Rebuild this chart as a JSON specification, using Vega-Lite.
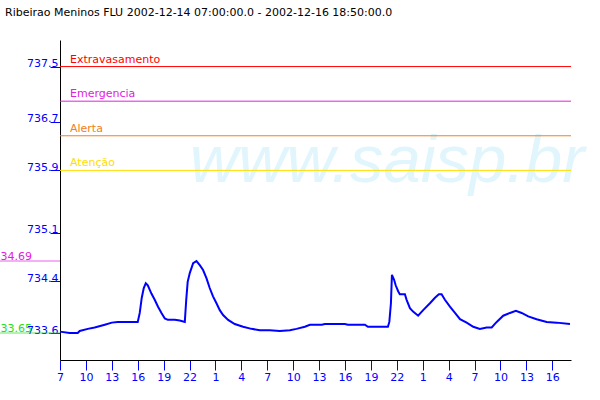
{
  "$schema": "https://vega.github.io/schema/vega-lite/v6.json",
  "width": 511,
  "height": 320,
  "autosize": {"type": "none"},
  "padding": {"left": 60, "top": 40, "right": 29, "bottom": 40},
  "background": "white",
  "title": {
    "text": "Ribeirao Meninos FLU 2002-12-14 07:00:00.0 - 2002-12-16 18:50:00.0",
    "anchor": "start",
    "frame": "group",
    "dx": -55,
    "offset": 13,
    "baseline": "alphabetic",
    "font": "DejaVu Sans",
    "fontSize": 11,
    "fontWeight": "normal",
    "color": "black"
  },
  "config": {
    "view": {"stroke": null},
    "font": "DejaVu Sans",
    "text": {"font": "DejaVu Sans", "fontSize": 11},
    "axisX": {
      "grid": false, "domainColor": "#000000", "domainWidth": 1,
      "tickColor": "#0000ff", "tickSize": 10, "tickWidth": 1,
      "labelColor": "#0000ff", "labelFont": "DejaVu Sans", "labelFontSize": 11,
      "labelPadding": 1, "labelBaseline": "top", "labelAlign": "center",
      "labelOverlap": false, "labelFlush": false, "labelBound": false
    },
    "axisY": {
      "grid": false, "domainColor": "#000000", "domainWidth": 1,
      "tickColor": "#0000ff", "tickSize": 10, "tickWidth": 1,
      "labelColor": "#0000ff", "labelFont": "DejaVu Sans", "labelFontSize": 11,
      "labelPadding": -8, "labelBaseline": "alphabetic", "labelAlign": "right",
      "labelOverlap": false, "labelFlush": false, "labelBound": false
    }
  },
  "datasets": {
    "level": [
      {"t": "2002-12-14T07:00Z", "v": 733.67},
      {"t": "2002-12-14T08:07Z", "v": 733.65},
      {"t": "2002-12-14T09:03Z", "v": 733.65},
      {"t": "2002-12-14T09:17Z", "v": 733.68},
      {"t": "2002-12-14T10:13Z", "v": 733.71},
      {"t": "2002-12-14T11:01Z", "v": 733.73},
      {"t": "2002-12-14T12:11Z", "v": 733.77},
      {"t": "2002-12-14T13:00Z", "v": 733.80},
      {"t": "2002-12-14T13:41Z", "v": 733.81},
      {"t": "2002-12-14T16:00Z", "v": 733.81},
      {"t": "2002-12-14T16:14Z", "v": 733.94},
      {"t": "2002-12-14T16:28Z", "v": 734.16},
      {"t": "2002-12-14T16:42Z", "v": 734.30},
      {"t": "2002-12-14T16:56Z", "v": 734.37},
      {"t": "2002-12-14T17:10Z", "v": 734.34},
      {"t": "2002-12-14T17:35Z", "v": 734.22},
      {"t": "2002-12-14T17:58Z", "v": 734.13},
      {"t": "2002-12-14T18:21Z", "v": 734.03},
      {"t": "2002-12-14T18:45Z", "v": 733.94},
      {"t": "2002-12-14T19:08Z", "v": 733.86},
      {"t": "2002-12-14T19:29Z", "v": 733.84},
      {"t": "2002-12-14T20:17Z", "v": 733.84},
      {"t": "2002-12-14T20:52Z", "v": 733.83},
      {"t": "2002-12-14T21:27Z", "v": 733.81},
      {"t": "2002-12-14T21:37Z", "v": 734.13},
      {"t": "2002-12-14T21:47Z", "v": 734.39},
      {"t": "2002-12-14T22:02Z", "v": 734.52},
      {"t": "2002-12-14T22:25Z", "v": 734.66},
      {"t": "2002-12-14T22:48Z", "v": 734.69},
      {"t": "2002-12-14T23:11Z", "v": 734.63},
      {"t": "2002-12-14T23:34Z", "v": 734.56},
      {"t": "2002-12-14T23:58Z", "v": 734.44},
      {"t": "2002-12-15T00:20Z", "v": 734.30},
      {"t": "2002-12-15T00:43Z", "v": 734.18},
      {"t": "2002-12-15T01:07Z", "v": 734.08},
      {"t": "2002-12-15T01:30Z", "v": 733.98},
      {"t": "2002-12-15T01:53Z", "v": 733.91},
      {"t": "2002-12-15T02:28Z", "v": 733.84},
      {"t": "2002-12-15T03:14Z", "v": 733.78},
      {"t": "2002-12-15T04:12Z", "v": 733.74},
      {"t": "2002-12-15T05:10Z", "v": 733.71},
      {"t": "2002-12-15T06:08Z", "v": 733.69},
      {"t": "2002-12-15T07:17Z", "v": 733.69},
      {"t": "2002-12-15T08:27Z", "v": 733.68},
      {"t": "2002-12-15T09:37Z", "v": 733.69},
      {"t": "2002-12-15T10:23Z", "v": 733.71},
      {"t": "2002-12-15T11:21Z", "v": 733.74},
      {"t": "2002-12-15T11:56Z", "v": 733.77},
      {"t": "2002-12-15T13:19Z", "v": 733.77},
      {"t": "2002-12-15T13:40Z", "v": 733.78},
      {"t": "2002-12-15T15:59Z", "v": 733.78},
      {"t": "2002-12-15T16:20Z", "v": 733.77},
      {"t": "2002-12-15T18:18Z", "v": 733.77},
      {"t": "2002-12-15T18:39Z", "v": 733.74},
      {"t": "2002-12-15T20:58Z", "v": 733.74},
      {"t": "2002-12-15T21:08Z", "v": 733.81},
      {"t": "2002-12-15T21:19Z", "v": 734.08},
      {"t": "2002-12-15T21:26Z", "v": 734.49},
      {"t": "2002-12-15T21:41Z", "v": 734.42},
      {"t": "2002-12-15T21:52Z", "v": 734.34},
      {"t": "2002-12-15T22:10Z", "v": 734.25},
      {"t": "2002-12-15T22:21Z", "v": 734.21},
      {"t": "2002-12-15T22:56Z", "v": 734.21},
      {"t": "2002-12-15T23:08Z", "v": 734.13},
      {"t": "2002-12-15T23:31Z", "v": 734.01},
      {"t": "2002-12-15T23:53Z", "v": 733.96},
      {"t": "2002-12-16T00:28Z", "v": 733.90},
      {"t": "2002-12-16T01:03Z", "v": 733.98},
      {"t": "2002-12-16T01:50Z", "v": 734.08},
      {"t": "2002-12-16T02:25Z", "v": 734.16},
      {"t": "2002-12-16T02:52Z", "v": 734.21},
      {"t": "2002-12-16T03:11Z", "v": 734.21},
      {"t": "2002-12-16T03:34Z", "v": 734.13},
      {"t": "2002-12-16T04:09Z", "v": 734.03},
      {"t": "2002-12-16T04:44Z", "v": 733.94},
      {"t": "2002-12-16T05:19Z", "v": 733.85},
      {"t": "2002-12-16T06:05Z", "v": 733.80},
      {"t": "2002-12-16T06:51Z", "v": 733.74},
      {"t": "2002-12-16T07:37Z", "v": 733.71},
      {"t": "2002-12-16T08:24Z", "v": 733.73},
      {"t": "2002-12-16T08:59Z", "v": 733.73},
      {"t": "2002-12-16T09:34Z", "v": 733.81},
      {"t": "2002-12-16T10:19Z", "v": 733.90},
      {"t": "2002-12-16T11:06Z", "v": 733.94},
      {"t": "2002-12-16T11:47Z", "v": 733.97},
      {"t": "2002-12-16T12:27Z", "v": 733.94},
      {"t": "2002-12-16T13:13Z", "v": 733.89},
      {"t": "2002-12-16T14:11Z", "v": 733.85},
      {"t": "2002-12-16T15:21Z", "v": 733.81},
      {"t": "2002-12-16T16:31Z", "v": 733.80},
      {"t": "2002-12-16T18:03Z", "v": 733.78}
    ],
    "thresholds": [
      {"cat": "Extravasamento", "v": 737.5},
      {"cat": "Emergencia", "v": 737.0},
      {"cat": "Alerta", "v": 736.5},
      {"cat": "Atenção", "v": 736.0}
    ],
    "extremes": [
      {"cat": "max", "v": 734.69},
      {"cat": "min", "v": 733.65}
    ],
    "mark": [
      {"w": "www.saisp.br"}
    ]
  },
  "layer": [
    {
      "data": {"name": "mark"},
      "mark": {"type": "text", "font": "Liberation Sans", "fontSize": 67, "fontStyle": "italic", "color": "#e1f5fd", "align": "left", "baseline": "alphabetic"},
      "encoding": {
        "x": {"datum": 1039903320000, "type": "temporal",
              "scale": {"type": "utc", "domain": [1039849200000, 1040062200000]}},
        "y": {"datum": 735.83, "type": "quantitative", "scale": {"domain": [733.26, 737.884], "nice": false, "zero": false}},
        "text": {"field": "w"}
      }
    },
    {
      "data": {"name": "thresholds"},
      "mark": {"type": "rule", "strokeWidth": 1},
      "encoding": {
        "y": {"field": "v", "type": "quantitative", "scale": {"domain": [733.26, 737.884], "nice": false, "zero": false}},
        "color": {"field": "cat", "type": "nominal", "legend": null,
                  "scale": {"domain": ["Extravasamento", "Emergencia", "Alerta", "Atenção", "max", "min"], "range": ["#ff0000", "#e020e0", "#f08020", "#ffdd00", "#e020e0", "#20e020"]}}
      }
    },
    {
      "data": {"name": "thresholds"},
      "mark": {"type": "text", "align": "left", "baseline": "alphabetic", "dx": 10, "dy": -4, "fontSize": 11},
      "encoding": {
        "x": {"datum": 1039849200000, "type": "temporal"},
        "y": {"field": "v", "type": "quantitative"},
        "text": {"field": "cat"},
        "color": {"field": "cat", "type": "nominal", "legend": null,
                  "scale": {"domain": ["Extravasamento", "Emergencia", "Alerta", "Atenção", "max", "min"], "range": ["#ff0000", "#e020e0", "#f08020", "#ffdd00", "#e020e0", "#20e020"]}}
      }
    },
    {
      "data": {"name": "extremes"},
      "mark": {"type": "tick", "orient": "horizontal", "size": 60, "thickness": 1, "xOffset": -30},
      "encoding": {
        "x": {"datum": 1039849200000, "type": "temporal"},
        "y": {"field": "v", "type": "quantitative"},
        "color": {"field": "cat", "type": "nominal", "legend": null,
                  "scale": {"domain": ["Extravasamento", "Emergencia", "Alerta", "Atenção", "max", "min"], "range": ["#ff0000", "#e020e0", "#f08020", "#ffdd00", "#e020e0", "#20e020"]}}
      }
    },
    {
      "data": {"name": "extremes"},
      "mark": {"type": "text", "align": "right", "baseline": "alphabetic", "dx": -28, "dy": -1, "fontSize": 11},
      "encoding": {
        "x": {"datum": 1039849200000, "type": "temporal"},
        "y": {"field": "v", "type": "quantitative"},
        "text": {"field": "v", "type": "quantitative", "format": ".2f"},
        "color": {"field": "cat", "type": "nominal", "legend": null,
                  "scale": {"domain": ["Extravasamento", "Emergencia", "Alerta", "Atenção", "max", "min"], "range": ["#ff0000", "#e020e0", "#f08020", "#ffdd00", "#e020e0", "#20e020"]}}
      }
    },
    {
      "data": {"name": "level"},
      "mark": {"type": "line", "color": "#0000ff", "strokeWidth": 2},
      "encoding": {
        "x": {"field": "t", "type": "temporal",
              "scale": {"type": "utc", "domain": [1039849200000, 1040062200000]},
              "axis": {
                "title": null, "labelOverlap": false, "tickCount": 20,
                "labelExpr": "utcFormat(datum.value, '%-H')",
                "values": [1039849200000, 1039860000000, 1039870800000, 1039881600000, 1039892400000,
                           1039903200000, 1039914000000, 1039924800000, 1039935600000, 1039946400000,
                           1039957200000, 1039968000000, 1039978800000, 1039989600000, 1040000400000,
                           1040011200000, 1040022000000, 1040032800000, 1040043600000, 1040054400000]
              }},
        "y": {"field": "v", "type": "quantitative",
              "scale": {"domain": [733.26, 737.884], "nice": false, "zero": false},
              "axis": {
                "title": null, "labelOverlap": false,
                "values": [733.65, 734.4, 735.1, 736.0, 736.7, 737.5],
                "labelExpr": "datum.value == 736 ? '735.9' : format(floor(datum.value * 10 + 0.001) / 10, '.1f')"
              }}
      }
    }
  ]
}
